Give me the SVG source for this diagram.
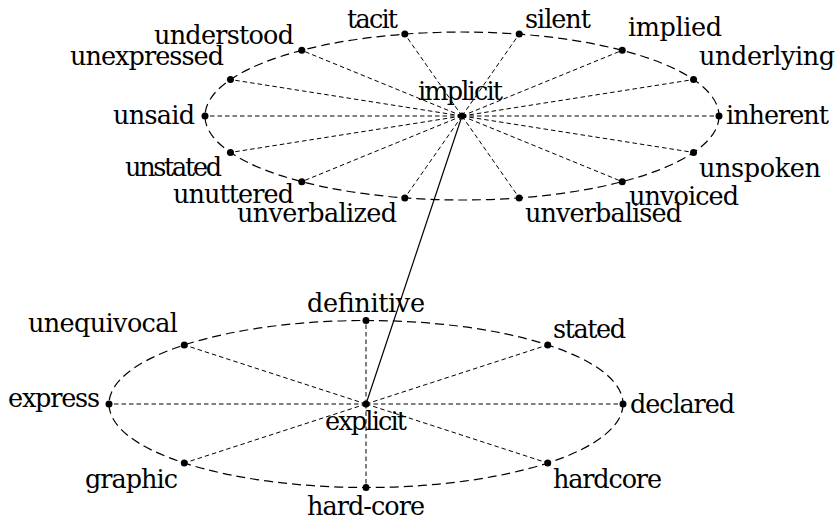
<svg xmlns="http://www.w3.org/2000/svg" width="839" height="520" viewBox="0 0 839 520">
  <style>
    .ring { fill: none; stroke: #000; stroke-width: 1.2; stroke-dasharray: 9 5; }
    .spoke { fill: none; stroke: #000; stroke-width: 1; stroke-dasharray: 4.5 3; }
    .link { fill: none; stroke: #000; stroke-width: 1.2; }
    .dot { fill: #000; }
    text { font-family: "DejaVu Serif", "Liberation Serif", serif; font-size: 25.5px; fill: #000; text-anchor: middle; }
  </style>
  <rect width="839" height="520" fill="#fff"/>

  <!-- dashed rings -->
  <g id="rings">
    <ellipse class="ring" cx="462" cy="116" rx="257" ry="84"/>
    <ellipse class="ring" cx="366" cy="404" rx="257" ry="83.5"/>
  </g>

  <!-- connectors: spokes from each centre, plus the solid link between centres -->
  <g id="connectors">
    <path class="spoke" d="M462 116 L719 116 M462 116 L693.55 79.55 M462 116 L622.24 50.33 M462 116 L519.19 34.11 M462 116 L404.81 34.11 M462 116 L301.76 50.33 M462 116 L230.45 79.55 M462 116 L205 116 M462 116 L230.45 152.45 M462 116 L301.76 181.67 M462 116 L404.81 197.89 M462 116 L519.19 197.89 M462 116 L622.24 181.67 M462 116 L693.55 152.45"/>
    <path class="spoke" d="M366 404 L623 404 M366 404 L547.73 344.96 M366 404 L366 320.5 M366 404 L184.27 344.96 M366 404 L109 404 M366 404 L184.27 463.04 M366 404 L366 487.5 M366 404 L547.73 463.04"/>
    <path class="link" d="M462 116 L366 404"/>
  </g>

  <!-- upper cluster -->
  <g id="implicit"><circle class="dot" cx="462" cy="116" r="3.5"/><text x="460.5" y="100" textLength="85">implicit</text></g>
  <g id="inherent"><circle class="dot" cx="719" cy="116" r="3.5"/><text x="777.5" y="124" textLength="103">inherent</text></g>
  <g id="underlying"><circle class="dot" cx="693.55" cy="79.55" r="3.5"/><text x="767" y="65" textLength="136">underlying</text></g>
  <g id="implied"><circle class="dot" cx="622.24" cy="50.33" r="3.5"/><text x="675" y="36" textLength="94">implied</text></g>
  <g id="silent"><circle class="dot" cx="519.19" cy="34.11" r="3.5"/><text x="558" y="28" textLength="66">silent</text></g>
  <g id="tacit"><circle class="dot" cx="404.81" cy="34.11" r="3.5"/><text x="372.5" y="28" textLength="51">tacit</text></g>
  <g id="understood"><circle class="dot" cx="301.76" cy="50.33" r="3.5"/><text x="224" y="44" textLength="140">understood</text></g>
  <g id="unexpressed"><circle class="dot" cx="230.45" cy="79.55" r="3.5"/><text x="147" y="65" textLength="154">unexpressed</text></g>
  <g id="unsaid"><circle class="dot" cx="205" cy="116" r="3.5"/><text x="154" y="124" textLength="82">unsaid</text></g>
  <g id="unstated"><circle class="dot" cx="230.45" cy="152.45" r="3.5"/><text x="173.5" y="176" textLength="97">unstated</text></g>
  <g id="unuttered"><circle class="dot" cx="301.76" cy="181.67" r="3.5"/><text x="233.5" y="203" textLength="121">unuttered</text></g>
  <g id="unverbalized"><circle class="dot" cx="404.81" cy="197.89" r="3.5"/><text x="317" y="222" textLength="160">unverbalized</text></g>
  <g id="unverbalised"><circle class="dot" cx="519.19" cy="197.89" r="3.5"/><text x="603.5" y="222" textLength="157">unverbalised</text></g>
  <g id="unvoiced"><circle class="dot" cx="622.24" cy="181.67" r="3.5"/><text x="684" y="205" textLength="110">unvoiced</text></g>
  <g id="unspoken"><circle class="dot" cx="693.55" cy="152.45" r="3.5"/><text x="760" y="177" textLength="122">unspoken</text></g>

  <!-- lower cluster -->
  <g id="explicit"><circle class="dot" cx="366" cy="404" r="3.5"/><text x="366" y="430" textLength="82">explicit</text></g>
  <g id="declared"><circle class="dot" cx="623" cy="404" r="3.5"/><text x="682.5" y="413" textLength="105">declared</text></g>
  <g id="stated"><circle class="dot" cx="547.73" cy="344.96" r="3.5"/><text x="589.5" y="338" textLength="73">stated</text></g>
  <g id="definitive"><circle class="dot" cx="366" cy="320.5" r="3.5"/><text x="366" y="312" textLength="118">definitive</text></g>
  <g id="unequivocal"><circle class="dot" cx="184.27" cy="344.96" r="3.5"/><text x="103" y="332" textLength="150">unequivocal</text></g>
  <g id="express"><circle class="dot" cx="109" cy="404" r="3.5"/><text x="54" y="407" textLength="92">express</text></g>
  <g id="graphic"><circle class="dot" cx="184.27" cy="463.04" r="3.5"/><text x="131.5" y="488" textLength="93">graphic</text></g>
  <g id="hard-core"><circle class="dot" cx="366" cy="487.5" r="3.5"/><text x="366" y="515" textLength="118">hard-core</text></g>
  <g id="hardcore"><circle class="dot" cx="547.73" cy="463.04" r="3.5"/><text x="607.5" y="488" textLength="109">hardcore</text></g>
</svg>
